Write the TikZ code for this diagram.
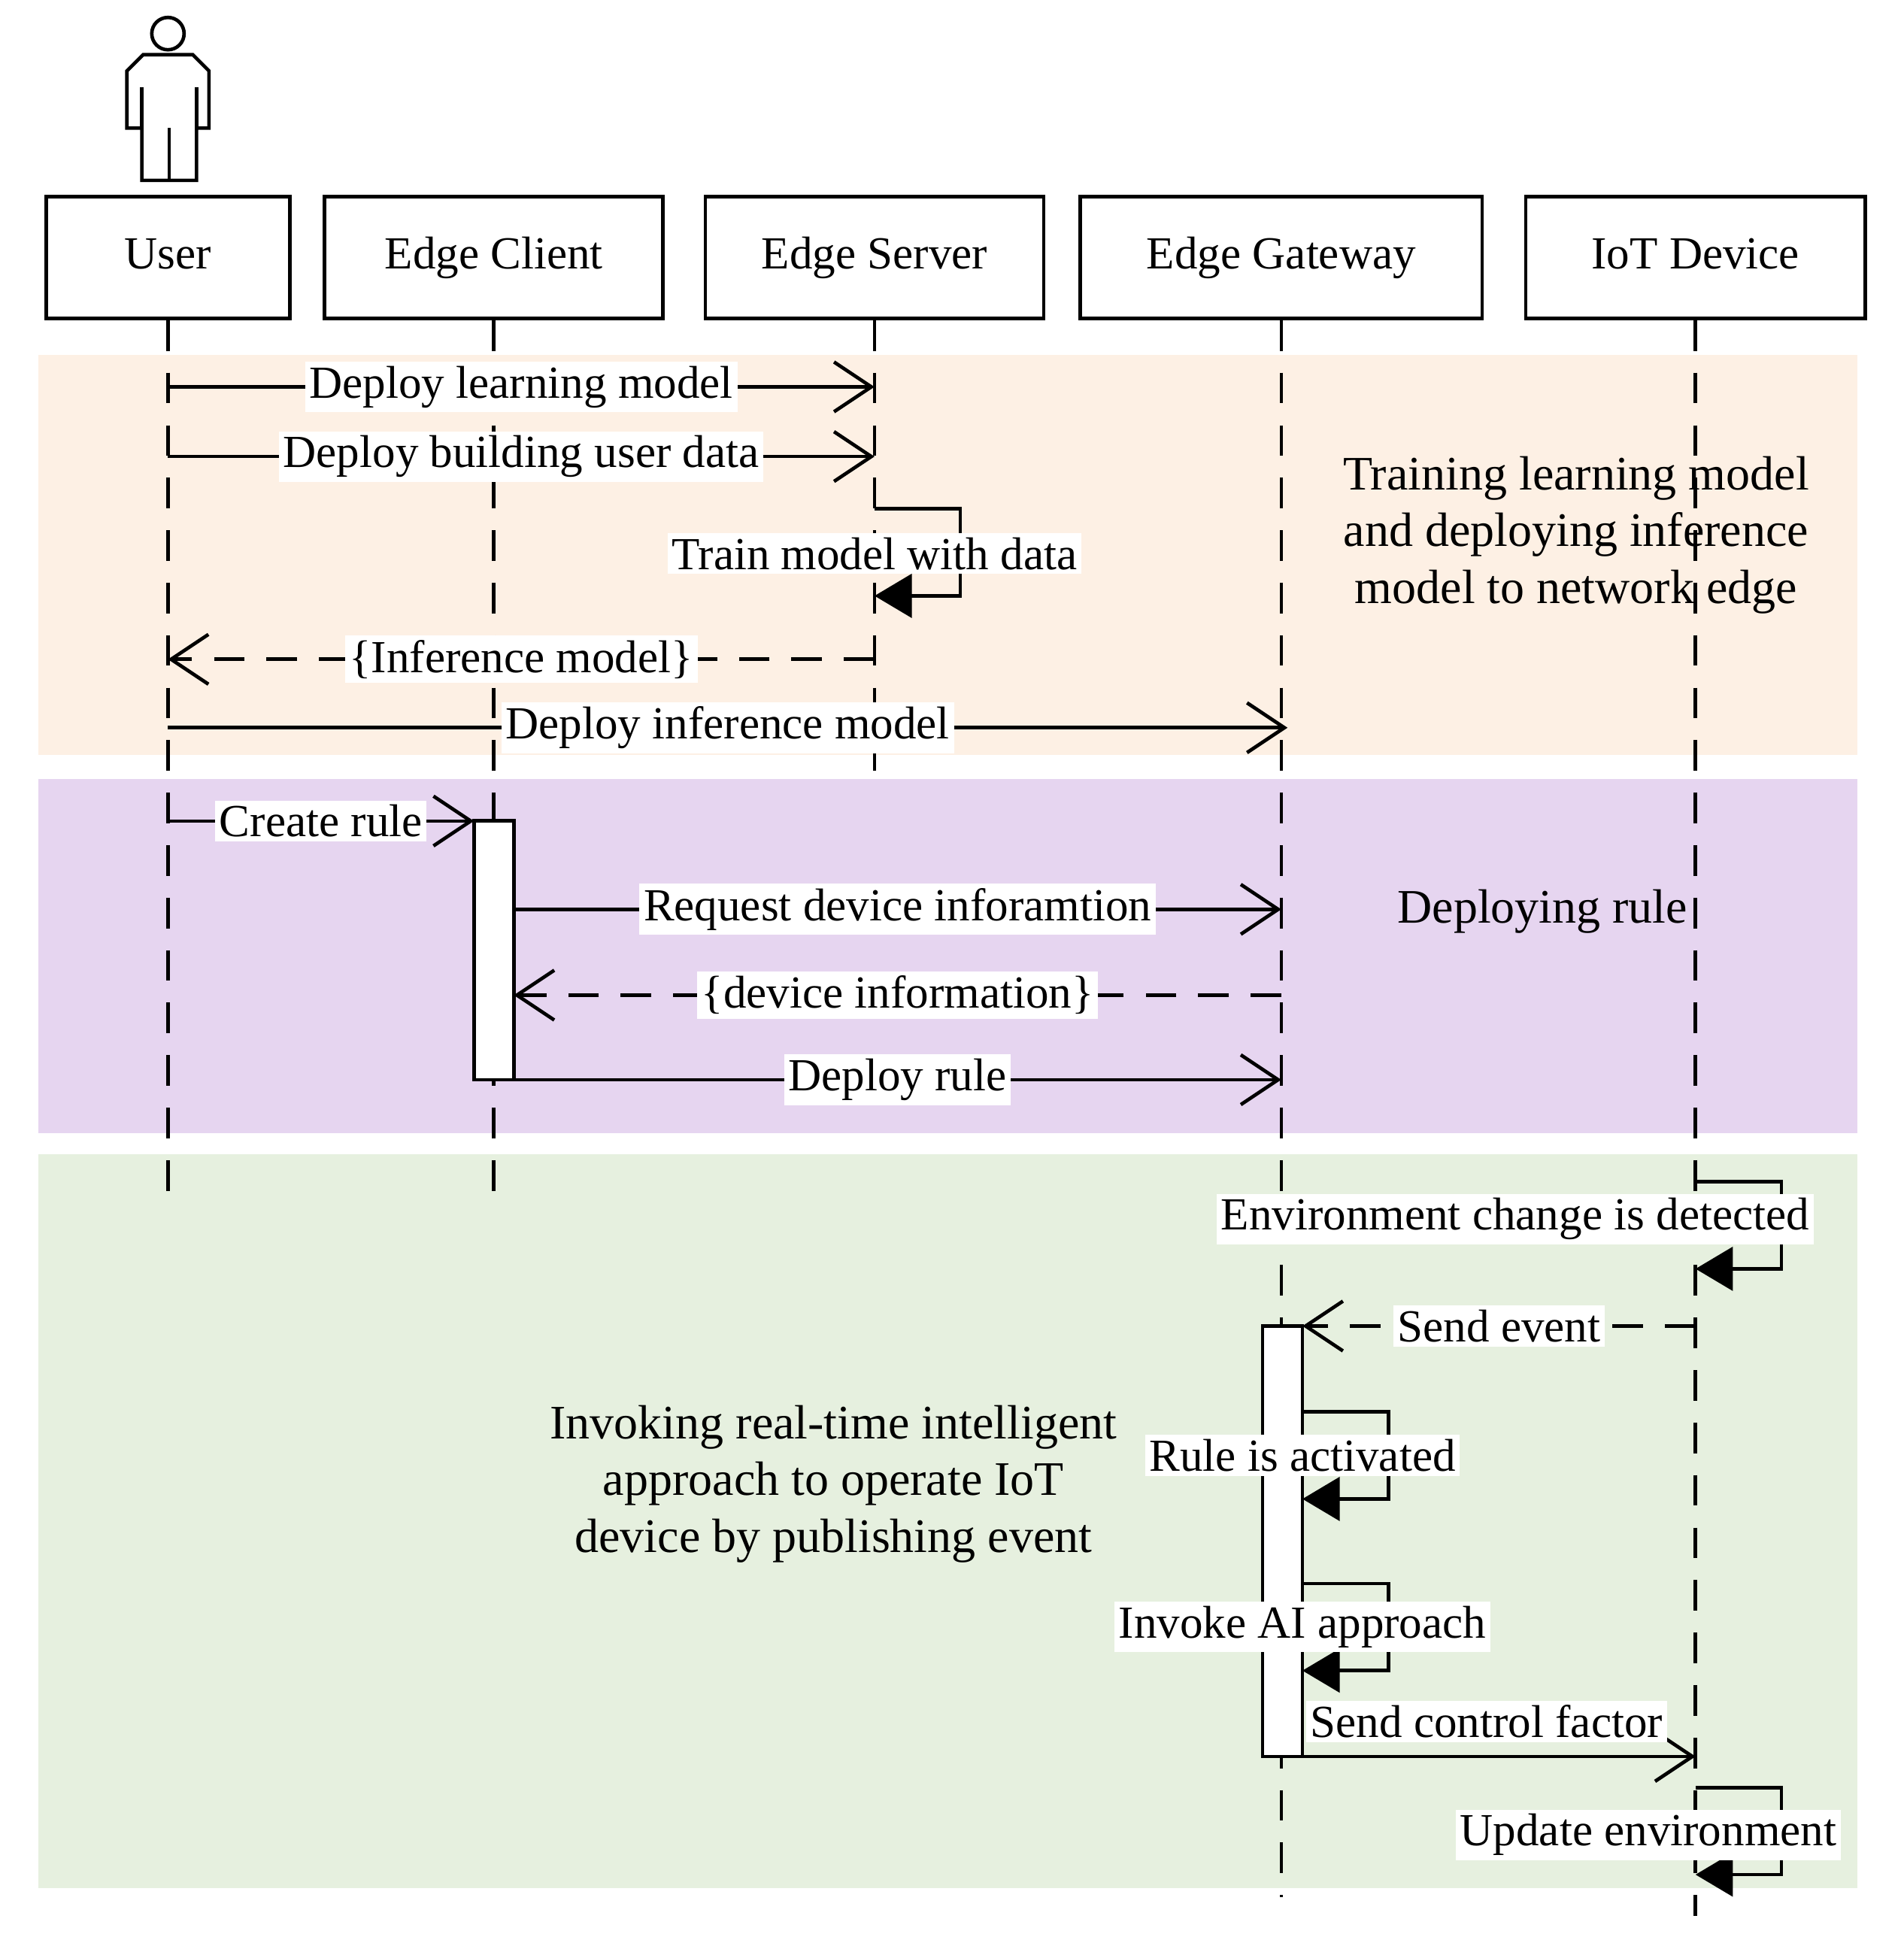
\documentclass[tikz,border=0pt]{standalone}
\usepackage{fontspec}
\setmainfont{Liberation Serif}
\usetikzlibrary{arrows.meta}
\begin{document}
\begin{tikzpicture}[x=0.01cm,y=-0.01cm,font=\fontsize{10.5}{12.5}\selectfont,
 box/.style={draw,thick,minimum width=#1*0.01cm,minimum height=0.98cm,inner sep=0pt,text height=1.6ex,text depth=0.45ex},
 life/.style={thick,dash pattern=on 7pt off 5pt},
 msg/.style={thick,-{Straight Barb[length=3mm,width=4mm]}},
 ret/.style={thick,dash pattern=on 7pt off 5pt,-{Straight Barb[length=3mm,width=4mm]}},
 self/.style={thick,-{Triangle[length=3mm,width=3.5mm]}},
 lbl/.style={fill=white,inner sep=1pt},
 note/.style={align=center,font=\fontsize{11}{13}\selectfont}]
\useasboundingbox (0,0) rectangle (1530,1562);
% bands
\fill[fill={rgb,255:red,253;green,240;blue,228}] (31,285) rectangle (1493,607);
\fill[fill={rgb,255:red,230;green,213;blue,240}] (31,626) rectangle (1493,911);
\fill[fill={rgb,255:red,230;green,240;blue,223}] (31,928) rectangle (1493,1518);
% actor
\draw[thick] (135,27) circle (13);
\draw[thick] (115,44) -- (155,44) -- (168,57) -- (168,103) -- (158,103) -- (158,145) -- (114,145) -- (114,103) -- (102,103) -- (102,57) -- cycle;
\draw[thick] (136,103) -- (136,145) (114,70) -- (114,103) (158,70) -- (158,103);
% headers
\node[box=196] (u) at (135,207) {User};
\node[box=272] (c) at (397,207) {Edge Client};
\node[box=272] (s) at (703,207) {Edge Server};
\node[box=323] (g) at (1030,207) {Edge Gateway};
\node[box=273] (d) at (1363,207) {IoT Device};
% lifelines
\coordinate (ue) at (135,970); \coordinate (ce) at (397,970);
\coordinate (se) at (703,625); \coordinate (ge) at (1030,1525); \coordinate (de) at (1363,1540);
\draw[life] (u) -- (ue); \draw[life] (c) -- (ce); \draw[life] (s) -- (se);
\draw[life] (g) -- (ge); \draw[life] (d) -- (de);
% activations
\node[draw,thick,fill=white,minimum width=0.32cm,minimum height=2.08cm,inner sep=0pt] (ca) at (397,764) {};
\node[draw,thick,fill=white,minimum width=0.32cm,minimum height=3.46cm,inner sep=0pt] (ga) at (1031,1239) {};
% messages
\coordinate (a1) at (135,311); \coordinate (b1) at (703,311);
\draw[msg] (a1) -- node[lbl]{Deploy learning model} (b1);
\coordinate (a2) at (135,367); \coordinate (b2) at (703,367);
\draw[msg] (a2) -- node[lbl,pos=0.5]{Deploy building user data} (b2);
\coordinate (t1) at (703,409); \coordinate (t2) at (703,479);
\draw[self] (t1) -- ++(69,0) -- ++(0,70) -- (t2);
\node[lbl] at (703,445) {Train model with data};
\coordinate (a4) at (703,530); \coordinate (b4) at (135,530);
\draw[ret] (a4) -- node[lbl]{\{Inference model\}} (b4);
\coordinate (a5) at (135,585); \coordinate (b5) at (1035,585);
\draw[msg] (a5) -- node[lbl,pos=0.5]{Deploy inference model} (b5);
\node[note] at (1267,430) {Training learning model\\and deploying inference\\model to network edge};
\coordinate (a6) at (135,660); \coordinate (b6) at (381,660);
\draw[thick] (a6) -- ++(0,-10);
\draw[msg] (a6) -- node[lbl]{Create rule} (b6);
\coordinate (a7) at (413,731); \coordinate (b7) at (1030,731);
\draw[msg] (a7) -- node[lbl,pos=0.5]{Request device inforamtion} (b7);
\coordinate (a8) at (1030,800); \coordinate (b8) at (413,800);
\draw[ret] (a8) -- node[lbl]{\{device information\}} (b8);
\coordinate (a9) at (413,868); \coordinate (b9) at (1030,868);
\draw[msg] (a9) -- node[lbl]{Deploy rule} (b9);
\node[note] at (1240,733) {Deploying rule};
\coordinate (e1) at (1363,950); \coordinate (e2) at (1363,1020);
\draw[self] (e1) -- ++(69,0) -- ++(0,70) -- (e2);
\node[lbl] at (1218,980) {Environment change is detected};
\coordinate (a11) at (1363,1066); \coordinate (b11) at (1047,1066);
\draw[ret] (a11) -- node[lbl]{Send event} (b11);
\coordinate (r1) at (1047,1135); \coordinate (r2) at (1047,1205);
\draw[self] (r1) -- ++(69,0) -- ++(0,70) -- (r2);
\node[lbl] at (1047,1170) {Rule is activated};
\coordinate (i1) at (1047,1273); \coordinate (i2) at (1047,1343);
\draw[self] (i1) -- ++(69,0) -- ++(0,70) -- (i2);
\node[lbl] at (1047,1308) {Invoke AI approach};
\coordinate (a14) at (1047,1412); \coordinate (b14) at (1363,1412);
\draw[msg] (a14) -- (b14);
\node[lbl] at (1195,1384) {Send control factor};
\coordinate (p1) at (1363,1437); \coordinate (p2) at (1363,1507);
\draw[self] (p1) -- ++(69,0) -- ++(0,70) -- (p2);
\node[lbl] at (1325,1475) {Update environment};
\node[note] at (670,1193) {Invoking real-time intelligent\\approach to operate IoT\\device by publishing event};
\end{tikzpicture}
\end{document}
